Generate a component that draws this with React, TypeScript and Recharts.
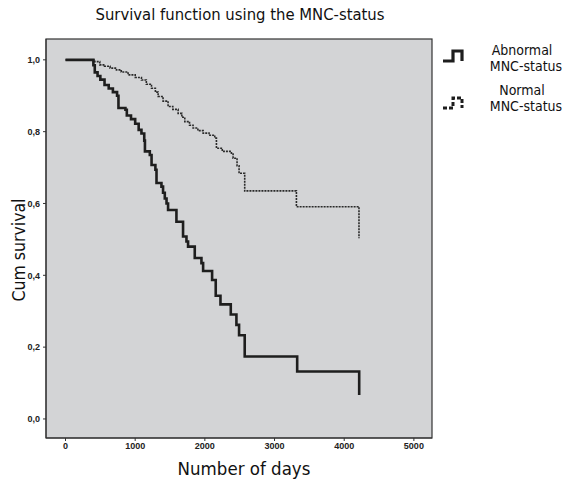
import React from 'react';
import { LineChart, Line, XAxis, YAxis, CartesianGrid } from 'recharts';

// Kaplan-Meier steps, abnormal MNC-status (solid)
const abnormalDays = [
  0, 390, 400, 420, 460, 500, 560, 620, 680, 740, 760, 860, 880, 940, 1000, 1050,
  1090, 1130, 1140, 1210, 1235, 1290, 1306, 1377, 1400, 1425, 1450, 1472, 1592,
  1687, 1736, 1759, 1855, 1951, 1975, 2104, 2156, 2224, 2372, 2453, 2491, 2572,
  3325, 4215, 4215,
];
const abnormalSurvival = [
  1.0, 1.0, 0.985, 0.965, 0.955, 0.945, 0.93, 0.92, 0.91, 0.9, 0.866, 0.861, 0.845,
  0.835, 0.822, 0.805, 0.795, 0.775, 0.745, 0.735, 0.707, 0.694, 0.657, 0.647, 0.63,
  0.614, 0.6, 0.582, 0.549, 0.508, 0.494, 0.48, 0.448, 0.434, 0.412, 0.387, 0.343,
  0.319, 0.291, 0.262, 0.233, 0.174, 0.132, 0.132, 0.067,
];

// normal MNC-status (dotted)
const normalDays = [
  0, 390, 420, 492, 560, 640, 731, 800, 898, 1000, 1090, 1160, 1234, 1290, 1329,
  1400, 1472, 1540, 1616, 1670, 1712, 1780, 1831, 1900, 1975, 2060, 2142, 2166,
  2250, 2381, 2405, 2462, 2491, 2572, 3314, 4212, 4212,
];
const normalSurvival = [
  1.0, 1.0, 0.995, 0.986, 0.982, 0.977, 0.972, 0.966, 0.958, 0.951, 0.944, 0.932,
  0.921, 0.91, 0.898, 0.885, 0.87, 0.862, 0.851, 0.84, 0.828, 0.818, 0.81, 0.803,
  0.796, 0.79, 0.782, 0.754, 0.745, 0.74, 0.726, 0.705, 0.684, 0.635, 0.591, 0.591,
  0.503,
];

const xTicks = [0, 1000, 2000, 3000, 4000, 5000];
const yTicks = [0, 0.2, 0.4, 0.6, 0.8, 1.0];

const abnormalData = abnormalDays.map((d, i) => ({ day: d, surv: abnormalSurvival[i] }));
const normalData = normalDays.map((d, i) => ({ day: d, surv: normalSurvival[i] }));

const FONT = "'DejaVu Sans Condensed', 'DejaVu Sans', sans-serif";
const tickStyle = { fontSize: 9, fill: '#222', fontFamily: "'Liberation Sans', Arial", fontWeight: 'bold' as const };

export default function App() {
  return (
    <div style={{ position: 'absolute', left: 0, top: 0, width: 565, height: 480, background: '#fff' }}>
      <LineChart width={565} height={480} margin={{ top: 39, right: 133, bottom: 22, left: 16 }}>
        <CartesianGrid horizontal={false} vertical={false} fill="#d3d4d6" />
        <XAxis
          type="number"
          dataKey="day"
          domain={[-280, 5260]}
          ticks={xTicks}
          height={20}
          tickSize={3}
          tickMargin={2}
          tick={tickStyle}
          stroke="#333"
          allowDuplicatedCategory={false}
        />
        <YAxis
          type="number"
          dataKey="surv"
          domain={[-0.053, 1.058]}
          ticks={yTicks}
          width={30}
          tickSize={3}
          tickMargin={3}
          tick={tickStyle}
          stroke="#333"
          tickFormatter={(v: number) => v.toFixed(1).replace('.', ',')}
        />
        <Line
          data={normalData}
          type="stepAfter"
          dataKey="surv"
          stroke="#2a2a2a"
          strokeWidth={1.6}
          strokeDasharray="2 1"
          dot={false}
          isAnimationActive={false}
        />
        <Line
          data={abnormalData}
          type="stepAfter"
          dataKey="surv"
          stroke="#1e1e1e"
          strokeWidth={2.6}
          dot={false}
          isAnimationActive={false}
        />
      </LineChart>
      <svg width={565} height={480} style={{ position: 'absolute', left: 0, top: 0, pointerEvents: 'none' }}>
        <rect x={46} y={39} width={386} height={399} fill="none" stroke="#333" strokeWidth={1.2} />
        <text x={240} y={20} textAnchor="middle" fontSize={16.5} fontFamily={FONT} fill="#111">
          Survival function using the MNC-status
        </text>
        <text x={244} y={475} textAnchor="middle" fontSize={18.5} fontFamily={FONT} fill="#111">
          Number of days
        </text>
        <text x={25} y={250} textAnchor="middle" fontSize={17.5} fontFamily={FONT} fill="#111" transform="rotate(-90 25 250)">
          Cum survival
        </text>
        <path d="M443 61 H453 V51 H462 V61" fill="none" stroke="#1e1e1e" strokeWidth={3.2} />
        <path d="M443 108 H453 V98 H462 V108" fill="none" stroke="#1e1e1e" strokeWidth={3} strokeDasharray="4 2" />
        <text x={522} y={55} textAnchor="middle" fontSize={14} fontFamily={FONT} fill="#111">Abnormal</text>
        <text x={526} y={71} textAnchor="middle" fontSize={14} fontFamily={FONT} fill="#111">MNC-status</text>
        <text x={522} y={95} textAnchor="middle" fontSize={14} fontFamily={FONT} fill="#111">Normal</text>
        <text x={526} y={111} textAnchor="middle" fontSize={14} fontFamily={FONT} fill="#111">MNC-status</text>
      </svg>
    </div>
  );
}
